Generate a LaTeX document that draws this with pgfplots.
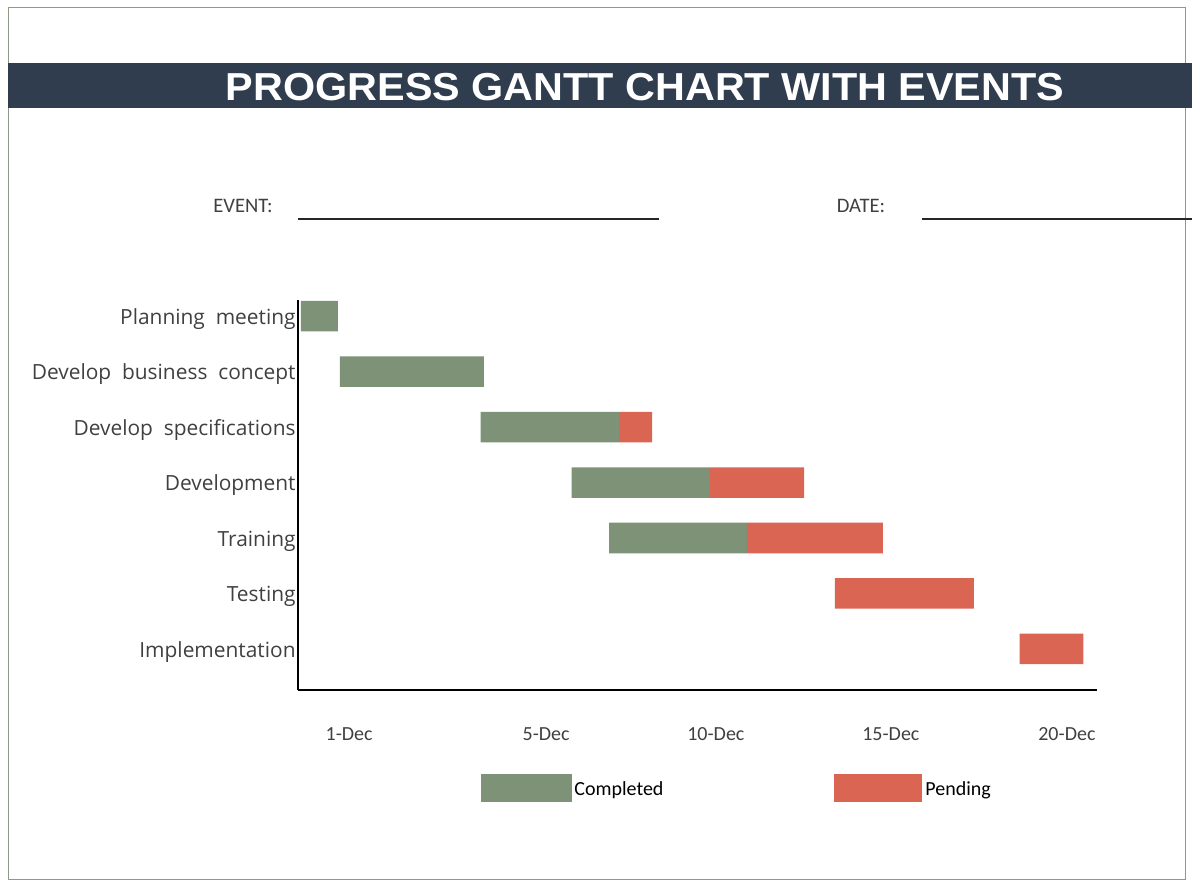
\documentclass[border=0pt]{standalone}
\usepackage{fontspec}
\setmainfont{Carlito}
\newfontfamily\catfont{Open Sans}
\newfontfamily\titlefont{Liberation Sans}
\usepackage{pgfplots}
\pgfplotsset{compat=1.18}
\usepackage{pgfplotstable}

\definecolor{done}{HTML}{7E9277}
\definecolor{pend}{HTML}{D96552}
\definecolor{banner}{HTML}{2F3D4E}
\definecolor{framecol}{HTML}{8C9A86}
\definecolor{labelgray}{HTML}{404040}

% task rows: 7 = first task (top) ... 1 = last task (bottom)
% start, completed and pending lengths in days
\pgfplotstableread{
task start done pending
7 0.08 1.06 0
6 1.20 4.11 0
5 5.22 3.95 0.95
4 7.82 3.95 2.69
3 8.89 3.94 3.88
2 15.34 0 3.97
1 20.62 0 1.82
}\tasks

\begin{document}
\begin{tikzpicture}
\begin{scope}[x=0.5pt,y=-0.5pt]
\useasboundingbox (0,0) rectangle (1200,889);
% page frame and title banner
\draw[framecol, line width=0.75pt] (8.3,7.5) rectangle (1185.5,879.5);
\fill[banner] (8,63.3) rectangle (1192,107.7);
\node[anchor=base, text=white, inner sep=0, xscale=1.06,
      font=\titlefont\bfseries\fontsize{19.5}{22}\selectfont]
  at (645,100) {PROGRESS GANTT CHART WITH EVENTS};

% event / date fields
\node[anchor=base, inner sep=0, text=labelgray, font=\fontsize{10.3}{12}\selectfont]
  at (243,212.3) {EVENT:};
\node[anchor=base, inner sep=0, text=labelgray, font=\fontsize{10.3}{12}\selectfont]
  at (861,212.3) {DATE:};
\draw[black!85, line width=0.75pt] (298,219) -- (659,219);
\draw[black!85, line width=0.75pt] (922,219) -- (1192,219);

% key
\fill[done] (480.7,774) rectangle (571.7,802);
\node[anchor=base west, inner sep=0, font=\fontsize{10}{12}\selectfont]
  at (574,795) {Completed};
\fill[pend] (834.3,774) rectangle (921.7,802);
\node[anchor=base west, inner sep=0, font=\fontsize{10}{12}\selectfont]
  at (925,795) {Pending};
\end{scope}

\begin{axis}[
  at={(149pt,-345pt)}, anchor=south west,
  scale only axis, width=399.5pt, height=195pt,
  xmin=0, xmax=22.83, ymin=0.26, ymax=7.29,
  xbar stacked, bar width=0.55,
  axis x line*=bottom, axis y line*=left,
  axis line style={line width=0.75pt, black, -},
  major tick length=0,
  xtick={1.46,7.09,11.94,16.94,21.97},
  xticklabels={1-Dec,5-Dec,10-Dec,15-Dec,20-Dec},
  xticklabel style={anchor=base, yshift=-25.35pt, text=labelgray,
    font=\fontsize{10}{12}\selectfont},
  ytick={1,2,3,4,5,6,7},
  yticklabels={Implementation,Testing,Training,Development,Develop\ \ specifications,Develop\ \ business\ \ concept,Planning\ \ meeting},
  yticklabel style={anchor=base east, inner sep=1pt, yshift=-4.1pt,
    text=labelgray, font=\catfont\fontsize{10.45}{12}\selectfont},
  clip=false,
]
\addplot[fill=none, draw=none] table[x=start, y=task] {\tasks};
\addplot[fill=done, draw=none] table[x=done, y=task] {\tasks};
\addplot[fill=pend, draw=none] table[x=pending, y=task] {\tasks};
\end{axis}
\end{tikzpicture}
\end{document}
